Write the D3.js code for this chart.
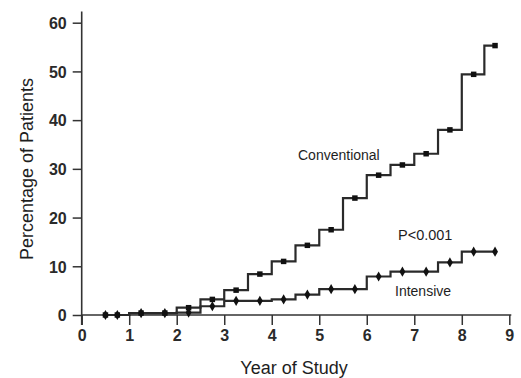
<!DOCTYPE html>
<html>
<head>
<meta charset="utf-8">
<script src="https://cdn.jsdelivr.net/npm/d3@7"></script>
<style>
  body { margin: 0; background: #fff; }
  svg { display: block; font-family: "Liberation Sans", Arial, sans-serif; }
  .tick text { fill: #2a2a2a; font-weight: bold; }
</style>
</head>
<body>
<svg id="chart" width="521" height="378"></svg>
<script>
// marker positions (years) and cumulative percentages
var markerYears  = [0.5, 0.75, 1.25, 1.75, 2.25, 2.75, 3.25, 3.75, 4.25, 4.75, 5.25, 5.75, 6.25, 6.75, 7.25, 7.75, 8.25, 8.7];
var conventional = [0, 0, 0.4, 0.4, 1.5, 3.2, 5.1, 8.4, 11.0, 14.3, 17.5, 24.0, 28.7, 30.8, 33.1, 38.0, 49.4, 55.3];
var intensive    = [0, 0, 0.4, 0.4, 0.5, 1.8, 2.9, 2.9, 3.2, 4.2, 5.3, 5.3, 7.9, 8.9, 8.9, 10.8, 13.0, 13.0];

var xTicks = [0, 1, 2, 3, 4, 5, 6, 7, 8, 9];
var yTicks = [0, 10, 20, 30, 40, 50, 60];

var svg = d3.select('#chart');
var ink = '#1e1e1e';

var x = d3.scaleLinear().domain([0, 9]).range([81.7, 509.3]);
var y = d3.scaleLinear().domain([0, 60]).range([315, 22.7]);

// y axis
var yAxis = svg.append('g')
    .attr('transform', 'translate(' + x(0) + ',0)')
    .call(d3.axisLeft(y).tickValues(yTicks).tickSize(9).tickPadding(6));
yAxis.select('.domain').remove();
yAxis.selectAll('.tick line').attr('stroke', '#333').attr('stroke-width', 1.5);
yAxis.selectAll('.tick text').attr('font-size', 16).attr('dy', '0.36em');

// x axis
var xAxis = svg.append('g')
    .attr('transform', 'translate(0,' + y(0) + ')')
    .call(d3.axisBottom(x).tickValues(xTicks).tickSize(10).tickPadding(5));
xAxis.select('.domain').remove();
xAxis.selectAll('.tick line').attr('stroke', '#333').attr('stroke-width', 1.5);
xAxis.selectAll('.tick text').attr('font-size', 16);

// axis lines
svg.append('line')
    .attr('x1', x(0)).attr('x2', x(0))
    .attr('y1', y(62.3)).attr('y2', y(0) + 10)
    .attr('stroke', '#333').attr('stroke-width', 1.6);
svg.append('line')
    .attr('x1', x(0)).attr('x2', x(9) + 2)
    .attr('y1', y(0)).attr('y2', y(0))
    .attr('stroke', '#333').attr('stroke-width', 1.6);

// step curves
var line = d3.line()
    .x(function(d) { return x(d[0]); })
    .y(function(d) { return y(d[1]); })
    .curve(d3.curveStep);

function pairs(vals) {
  return markerYears.map(function(yr, i) { return [yr, vals[i]]; });
}

[intensive, conventional].forEach(function(vals) {
  svg.append('path')
      .datum(pairs(vals))
      .attr('fill', 'none')
      .attr('stroke', '#2a2a2a')
      .attr('stroke-width', 2.2)
      .attr('d', line);
});

// markers
svg.selectAll('.dot-conv')
    .data(pairs(conventional))
    .enter().append('path')
    .attr('class', 'dot-conv')
    .attr('transform', function(d) { return 'translate(' + x(d[0]) + ',' + y(d[1]) + ')'; })
    .attr('d', d3.symbol().type(d3.symbolSquare).size(30))
    .attr('fill', '#111');

svg.selectAll('.dot-int')
    .data(pairs(intensive))
    .enter().append('path')
    .attr('class', 'dot-int')
    .attr('transform', function(d) { return 'translate(' + x(d[0]) + ',' + y(d[1]) + ')'; })
    .attr('d', d3.symbol().type(d3.symbolDiamond).size(30))
    .attr('fill', '#111');

// labels
svg.append('text')
    .attr('x', 298).attr('y', 160)
    .attr('font-size', 14)
    .attr('fill', ink)
    .text('Conventional');

svg.append('text')
    .attr('x', 398).attr('y', 240)
    .attr('font-size', 14.5)
    .attr('fill', ink)
    .text('P<0.001');

svg.append('text')
    .attr('x', 395).attr('y', 296)
    .attr('font-size', 14)
    .attr('fill', ink)
    .text('Intensive');

svg.append('text')
    .attr('transform', 'translate(33,169) rotate(-90)')
    .attr('text-anchor', 'middle')
    .attr('font-size', 18)
    .attr('fill', ink)
    .text('Percentage of Patients');

svg.append('text')
    .attr('x', 294).attr('y', 374)
    .attr('text-anchor', 'middle')
    .attr('font-size', 18)
    .attr('fill', ink)
    .text('Year of Study');
</script>
</body>
</html>
